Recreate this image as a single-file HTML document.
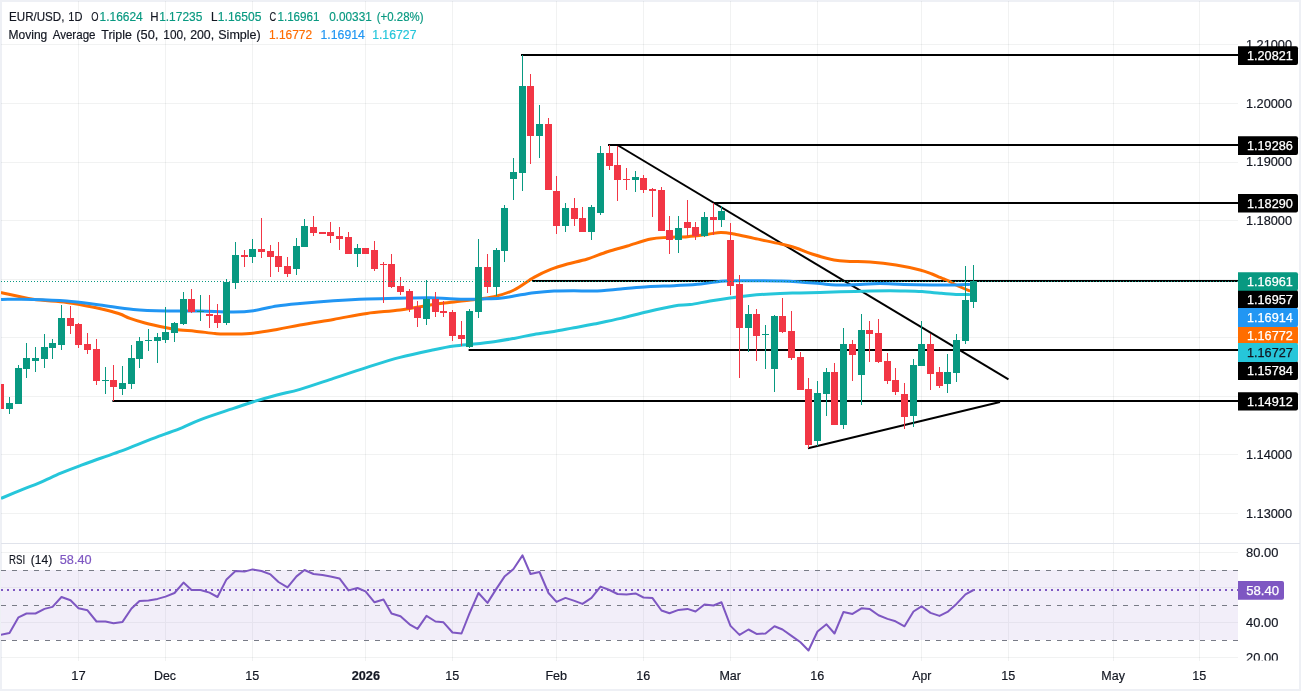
<!DOCTYPE html>
<html lang="en"><head><meta charset="utf-8"><title>EUR/USD 1D chart</title>
<style>html,body{margin:0;padding:0;background:#fff}svg{display:block}</style></head>
<body>
<svg width="1301" height="691" viewBox="0 0 1301 691" font-family="'Liberation Sans', sans-serif">
<rect width="1301" height="691" fill="#fff"/>
<g fill="#eef0f5" shape-rendering="crispEdges"><rect x="0" y="0" width="1301" height="2"/><rect x="0" y="689" width="1301" height="2"/><rect x="0" y="0" width="2" height="691"/><rect x="1299" y="0" width="2" height="691"/></g>
<clipPath id="cc"><rect x="1" y="1" width="1299" height="689"/></clipPath>
<g clip-path="url(#cc)">
<g shape-rendering="crispEdges" fill="#2a3a39" fill-opacity="0.065">
<rect x="78" y="0" width="1" height="661"/>
<rect x="165" y="0" width="1" height="661"/>
<rect x="252" y="0" width="1" height="661"/>
<rect x="365" y="0" width="1" height="661"/>
<rect x="452" y="0" width="1" height="661"/>
<rect x="556" y="0" width="1" height="661"/>
<rect x="643" y="0" width="1" height="661"/>
<rect x="730" y="0" width="1" height="661"/>
<rect x="817" y="0" width="1" height="661"/>
<rect x="921" y="0" width="1" height="661"/>
<rect x="1008" y="0" width="1" height="661"/>
<rect x="1113" y="0" width="1" height="661"/>
<rect x="1199" y="0" width="1" height="661"/>
<rect x="0" y="44" width="1238" height="1"/>
<rect x="0" y="103" width="1238" height="1"/>
<rect x="0" y="162" width="1238" height="1"/>
<rect x="0" y="220" width="1238" height="1"/>
<rect x="0" y="279" width="1238" height="1"/>
<rect x="0" y="337" width="1238" height="1"/>
<rect x="0" y="396" width="1238" height="1"/>
<rect x="0" y="454" width="1238" height="1"/>
<rect x="0" y="513" width="1238" height="1"/>
<rect x="0" y="552" width="1238" height="1"/>
<rect x="0" y="587" width="1238" height="1"/>
<rect x="0" y="622" width="1238" height="1"/>
<rect x="0" y="657" width="1238" height="1"/>
</g>
<rect x="0" y="570" width="1238" height="70" fill="#f2eef9" shape-rendering="crispEdges"/>
<g shape-rendering="crispEdges" fill="#e6e3ee">
<rect x="78" y="570" width="1" height="70"/>
<rect x="165" y="570" width="1" height="70"/>
<rect x="252" y="570" width="1" height="70"/>
<rect x="365" y="570" width="1" height="70"/>
<rect x="452" y="570" width="1" height="70"/>
<rect x="556" y="570" width="1" height="70"/>
<rect x="643" y="570" width="1" height="70"/>
<rect x="730" y="570" width="1" height="70"/>
<rect x="817" y="570" width="1" height="70"/>
<rect x="921" y="570" width="1" height="70"/>
<rect x="1008" y="570" width="1" height="70"/>
<rect x="1113" y="570" width="1" height="70"/>
<rect x="1199" y="570" width="1" height="70"/>
<rect x="0" y="587" width="1238" height="1"/>
<rect x="0" y="622" width="1238" height="1"/>
</g>
<g stroke="#787b86" stroke-width="1" stroke-dasharray="5 6" shape-rendering="crispEdges">
<line x1="1" y1="570.5" x2="1238" y2="570.5"/>
<line x1="1" y1="605.5" x2="1238" y2="605.5"/>
<line x1="1" y1="640.5" x2="1238" y2="640.5"/>
</g>
<g stroke="#000" stroke-width="2" stroke-linecap="butt">
<line x1="521" y1="55" x2="1238" y2="55"/>
<line x1="608" y1="145" x2="1238" y2="145"/>
<line x1="713" y1="203" x2="1238" y2="203"/>
<line x1="532" y1="281" x2="1238" y2="281"/>
<line x1="468.6" y1="350" x2="1238" y2="350"/>
<line x1="112.4" y1="401" x2="1238" y2="401"/>
<line x1="617.3" y1="145" x2="1008.5" y2="379.3"/>
<line x1="808" y1="448.3" x2="1000" y2="402"/>
</g>
<path d="M1.7,292.7 C6.9,293.8 22.2,297.7 33.0,299.3 C43.8,300.9 56.4,301.0 66.7,302.4 C77.0,303.8 88.1,306.1 95.0,307.5 C101.9,308.9 103.8,309.4 108.0,310.5 C112.2,311.6 116.3,312.7 120.0,314.0 C123.7,315.3 125.8,316.9 130.0,318.4 C134.2,319.9 139.2,321.5 145.0,323.0 C150.8,324.5 159.2,326.3 165.0,327.5 C170.8,328.7 175.0,329.4 180.0,330.0 C185.0,330.6 189.2,330.6 195.0,331.2 C200.8,331.8 210.0,333.0 215.0,333.5 C220.0,334.0 219.2,334.0 225.0,334.0 C230.8,334.0 241.3,334.2 250.0,333.4 C258.7,332.6 268.7,330.8 277.0,329.4 C285.3,328.0 290.6,326.7 300.0,325.0 C309.4,323.3 322.3,321.3 333.5,319.4 C344.7,317.5 355.9,315.0 367.0,313.4 C378.1,311.8 388.8,311.5 400.0,310.0 C411.2,308.5 425.0,305.8 434.0,304.5 C443.0,303.2 447.9,302.8 454.0,302.0 C460.1,301.2 464.0,300.9 470.7,300.0 C477.4,299.1 486.8,298.4 494.0,296.7 C501.2,295.0 507.3,293.2 514.0,290.0 C520.7,286.8 527.9,280.8 534.0,277.4 C540.1,274.0 545.1,271.6 550.7,269.4 C556.3,267.2 561.3,265.7 567.4,264.0 C573.5,262.3 580.7,261.1 587.4,259.0 C594.1,256.9 600.7,253.9 607.4,251.7 C614.1,249.5 620.2,248.1 627.4,246.0 C634.6,243.9 644.1,240.4 650.8,239.0 C657.5,237.6 661.4,237.8 667.5,237.4 C673.6,237.0 680.8,237.2 687.5,236.7 C694.2,236.2 702.0,235.1 707.5,234.4 C713.0,233.7 716.3,232.5 720.8,232.4 C725.2,232.3 728.6,233.0 734.2,234.0 C739.8,235.0 746.4,236.7 754.2,238.4 C762.0,240.1 773.9,242.4 780.9,244.0 C787.9,245.6 790.8,246.3 796.0,248.0 C801.2,249.7 805.7,252.0 812.0,254.0 C818.3,256.0 827.7,258.8 834.0,260.0 C840.3,261.2 844.0,261.1 850.0,261.4 C856.0,261.7 862.3,261.4 870.0,262.0 C877.7,262.6 887.7,263.7 896.0,265.0 C904.3,266.3 914.0,268.5 920.0,270.0 C926.0,271.5 928.7,272.8 932.0,274.0 C935.3,275.2 938.0,276.6 940.0,277.4 C942.0,278.2 942.3,278.3 944.0,279.0 C945.7,279.7 948.0,280.6 950.0,281.6 C952.0,282.6 952.8,283.5 956.0,285.0 C959.2,286.5 966.8,289.7 969.0,290.6" fill="none" stroke="#ff6d00" stroke-width="3" stroke-linejoin="round" stroke-linecap="round"/>
<path d="M1.7,299.4 C6.9,299.4 22.2,299.1 33.0,299.4 C43.8,299.7 55.5,300.1 66.7,301.0 C77.9,301.9 88.9,303.6 100.0,305.0 C111.1,306.4 122.3,308.4 133.4,309.4 C144.5,310.4 155.7,310.7 166.8,311.0 C177.9,311.3 188.9,310.8 200.0,311.0 C211.1,311.2 224.6,312.1 233.5,312.0 C242.4,311.9 246.2,311.7 253.5,310.7 C260.8,309.7 269.2,307.2 277.0,306.0 C284.8,304.8 290.6,304.3 300.0,303.4 C309.4,302.5 322.3,301.4 333.5,300.7 C344.7,300.0 355.9,299.4 367.0,299.0 C378.1,298.6 389.5,298.4 400.0,298.2 C410.5,298.0 421.7,297.7 430.0,297.8 C438.3,297.9 443.3,298.6 450.0,298.8 C456.7,299.1 464.7,299.3 470.0,299.3 C475.3,299.3 477.0,299.2 482.0,299.0 C487.0,298.8 494.7,298.7 500.0,298.2 C505.3,297.7 508.3,296.9 514.0,296.0 C519.7,295.1 527.3,293.5 534.0,292.7 C540.7,291.9 547.3,291.3 554.0,291.0 C560.7,290.7 567.3,290.7 574.0,290.7 C580.7,290.7 586.2,291.3 594.0,291.0 C601.8,290.7 611.9,289.7 620.8,289.0 C629.7,288.3 638.6,287.2 647.5,286.7 C656.4,286.1 665.3,286.1 674.2,285.7 C683.1,285.2 693.0,284.8 700.8,284.0 C708.6,283.2 715.2,281.8 720.8,281.2 C726.4,280.6 728.6,280.8 734.2,280.7 C739.8,280.6 746.4,280.6 754.2,280.7 C762.0,280.8 773.3,280.8 780.9,281.0 C788.5,281.2 793.5,281.5 800.0,281.9 C806.5,282.3 814.0,283.1 820.0,283.6 C826.0,284.1 829.3,284.9 836.0,285.0 C842.7,285.1 852.7,284.6 860.0,284.4 C867.3,284.2 872.7,283.6 880.0,283.6 C887.3,283.6 895.3,284.2 904.0,284.4 C912.7,284.6 924.0,284.9 932.0,285.0 C940.0,285.1 945.8,285.1 952.0,285.0 C958.2,284.9 966.2,284.5 969.0,284.4" fill="none" stroke="#2196f3" stroke-width="3" stroke-linejoin="round" stroke-linecap="round"/>
<path d="M2.0,498.0 C5.1,496.7 13.9,493.0 20.3,490.4 C26.7,487.8 33.8,485.2 40.5,482.3 C47.2,479.4 54.4,475.9 60.8,473.2 C67.2,470.5 72.2,468.6 79.0,466.1 C85.8,463.6 94.2,460.5 101.3,458.0 C108.4,455.5 114.8,453.4 121.6,450.9 C128.3,448.4 135.1,445.4 141.8,442.8 C148.6,440.2 155.3,437.6 162.1,435.1 C168.9,432.6 176.1,430.2 182.4,427.6 C188.7,425.1 191.5,423.0 200.0,419.8 C208.5,416.6 224.6,411.4 233.5,408.4 C242.4,405.4 246.2,403.9 253.5,401.7 C260.8,399.5 269.2,397.1 277.0,395.0 C284.8,392.9 290.6,392.2 300.0,389.4 C309.4,386.6 322.3,382.1 333.5,378.4 C344.7,374.7 355.9,370.9 367.0,367.4 C378.1,363.9 388.8,360.3 400.0,357.4 C411.2,354.4 425.0,351.6 434.0,349.7 C443.0,347.8 447.3,346.9 454.0,346.0 C460.7,345.1 467.3,344.7 474.0,344.0 C480.7,343.3 487.3,342.6 494.0,341.7 C500.7,340.8 507.3,339.6 514.0,338.4 C520.7,337.2 527.3,335.6 534.0,334.4 C540.7,333.2 547.3,332.5 554.0,331.4 C560.7,330.3 567.3,328.9 574.0,327.7 C580.7,326.5 586.2,325.6 594.0,324.0 C601.8,322.4 611.9,320.4 620.8,318.4 C629.7,316.3 638.6,313.8 647.5,311.7 C656.4,309.6 667.1,307.2 674.2,306.0 C681.3,304.8 684.0,305.4 690.0,304.6 C696.0,303.8 703.3,302.1 710.0,301.0 C716.7,299.9 723.3,298.9 730.0,298.0 C736.7,297.1 741.7,296.2 750.0,295.4 C758.3,294.6 771.7,293.8 780.0,293.4 C788.3,293.0 793.3,293.2 800.0,293.0 C806.7,292.8 813.3,292.6 820.0,292.4 C826.7,292.2 831.7,292.0 840.0,291.8 C848.3,291.6 861.7,291.2 870.0,291.0 C878.3,290.8 884.3,290.8 890.0,290.8 C895.7,290.8 898.7,290.9 904.0,291.0 C909.3,291.1 916.0,291.2 922.0,291.6 C928.0,292.0 934.3,292.7 940.0,293.2 C945.7,293.7 951.2,294.2 956.0,294.4 C960.8,294.6 966.8,294.6 969.0,294.6" fill="none" stroke="#26c6da" stroke-width="3" stroke-linejoin="round" stroke-linecap="round"/>
<g shape-rendering="crispEdges">
<rect x="0" y="384" width="1" height="25" fill="#f23645"/>
<rect x="-3" y="384" width="7" height="25" fill="#f23645"/>
<rect x="9" y="397" width="1" height="17" fill="#089981"/>
<rect x="6" y="403" width="7" height="6" fill="#089981"/>
<rect x="18" y="365" width="1" height="39" fill="#089981"/>
<rect x="15" y="368" width="7" height="36" fill="#089981"/>
<rect x="26" y="343" width="1" height="35" fill="#089981"/>
<rect x="23" y="358" width="7" height="11" fill="#089981"/>
<rect x="35" y="347" width="1" height="25" fill="#089981"/>
<rect x="32" y="358" width="7" height="3" fill="#089981"/>
<rect x="44" y="334" width="1" height="34" fill="#089981"/>
<rect x="41" y="347" width="7" height="12" fill="#089981"/>
<rect x="52" y="339" width="1" height="20" fill="#089981"/>
<rect x="49" y="343" width="7" height="5" fill="#089981"/>
<rect x="61" y="305" width="1" height="45" fill="#089981"/>
<rect x="58" y="318" width="7" height="27" fill="#089981"/>
<rect x="70" y="306" width="1" height="28" fill="#f23645"/>
<rect x="67" y="318" width="7" height="8" fill="#f23645"/>
<rect x="78" y="323" width="1" height="25" fill="#f23645"/>
<rect x="75" y="324" width="7" height="21" fill="#f23645"/>
<rect x="87" y="333" width="1" height="21" fill="#f23645"/>
<rect x="84" y="344" width="7" height="6" fill="#f23645"/>
<rect x="96" y="339" width="1" height="46" fill="#f23645"/>
<rect x="93" y="349" width="7" height="32" fill="#f23645"/>
<rect x="105" y="367" width="1" height="27" fill="#089981"/>
<rect x="102" y="380" width="7" height="1" fill="#089981"/>
<rect x="113" y="365" width="1" height="36" fill="#f23645"/>
<rect x="110" y="380" width="7" height="7" fill="#f23645"/>
<rect x="122" y="366" width="1" height="29" fill="#089981"/>
<rect x="119" y="383" width="7" height="6" fill="#089981"/>
<rect x="131" y="345" width="1" height="44" fill="#089981"/>
<rect x="128" y="358" width="7" height="26" fill="#089981"/>
<rect x="139" y="337" width="1" height="31" fill="#089981"/>
<rect x="136" y="341" width="7" height="18" fill="#089981"/>
<rect x="148" y="329" width="1" height="22" fill="#089981"/>
<rect x="145" y="340" width="7" height="1" fill="#089981"/>
<rect x="157" y="333" width="1" height="30" fill="#089981"/>
<rect x="154" y="337" width="7" height="4" fill="#089981"/>
<rect x="165" y="307" width="1" height="36" fill="#089981"/>
<rect x="162" y="332" width="7" height="8" fill="#089981"/>
<rect x="174" y="322" width="1" height="20" fill="#089981"/>
<rect x="171" y="323" width="7" height="10" fill="#089981"/>
<rect x="183" y="292" width="1" height="33" fill="#089981"/>
<rect x="180" y="299" width="7" height="25" fill="#089981"/>
<rect x="191" y="289" width="1" height="24" fill="#f23645"/>
<rect x="188" y="299" width="7" height="13" fill="#f23645"/>
<rect x="200" y="295" width="1" height="26" fill="#089981"/>
<rect x="197" y="311" width="7" height="1" fill="#089981"/>
<rect x="209" y="295" width="1" height="33" fill="#f23645"/>
<rect x="206" y="314" width="7" height="2" fill="#f23645"/>
<rect x="217" y="304" width="1" height="24" fill="#f23645"/>
<rect x="214" y="315" width="7" height="8" fill="#f23645"/>
<rect x="226" y="279" width="1" height="46" fill="#089981"/>
<rect x="223" y="282" width="7" height="41" fill="#089981"/>
<rect x="235" y="242" width="1" height="47" fill="#089981"/>
<rect x="232" y="255" width="7" height="28" fill="#089981"/>
<rect x="244" y="250" width="1" height="17" fill="#f23645"/>
<rect x="241" y="255" width="7" height="2" fill="#f23645"/>
<rect x="252" y="239" width="1" height="24" fill="#089981"/>
<rect x="249" y="249" width="7" height="8" fill="#089981"/>
<rect x="261" y="218" width="1" height="40" fill="#f23645"/>
<rect x="258" y="249" width="7" height="3" fill="#f23645"/>
<rect x="270" y="245" width="1" height="32" fill="#f23645"/>
<rect x="267" y="251" width="7" height="6" fill="#f23645"/>
<rect x="278" y="242" width="1" height="30" fill="#f23645"/>
<rect x="275" y="256" width="7" height="11" fill="#f23645"/>
<rect x="287" y="257" width="1" height="20" fill="#f23645"/>
<rect x="284" y="266" width="7" height="8" fill="#f23645"/>
<rect x="296" y="238" width="1" height="37" fill="#089981"/>
<rect x="293" y="246" width="7" height="23" fill="#089981"/>
<rect x="304" y="219" width="1" height="28" fill="#089981"/>
<rect x="301" y="226" width="7" height="21" fill="#089981"/>
<rect x="313" y="216" width="1" height="20" fill="#f23645"/>
<rect x="310" y="227" width="7" height="6" fill="#f23645"/>
<rect x="322" y="232" width="1" height="2" fill="#f23645"/>
<rect x="319" y="232" width="7" height="2" fill="#f23645"/>
<rect x="330" y="222" width="1" height="21" fill="#f23645"/>
<rect x="327" y="232" width="7" height="4" fill="#f23645"/>
<rect x="339" y="227" width="1" height="23" fill="#f23645"/>
<rect x="336" y="236" width="7" height="3" fill="#f23645"/>
<rect x="348" y="232" width="1" height="22" fill="#f23645"/>
<rect x="345" y="237" width="7" height="17" fill="#f23645"/>
<rect x="357" y="244" width="1" height="23" fill="#089981"/>
<rect x="354" y="248" width="7" height="6" fill="#089981"/>
<rect x="365" y="248" width="1" height="6" fill="#f23645"/>
<rect x="362" y="248" width="7" height="6" fill="#f23645"/>
<rect x="374" y="241" width="1" height="30" fill="#f23645"/>
<rect x="371" y="250" width="7" height="19" fill="#f23645"/>
<rect x="383" y="262" width="1" height="41" fill="#f23645"/>
<rect x="380" y="264" width="7" height="1" fill="#f23645"/>
<rect x="391" y="254" width="1" height="34" fill="#f23645"/>
<rect x="388" y="264" width="7" height="23" fill="#f23645"/>
<rect x="400" y="277" width="1" height="18" fill="#f23645"/>
<rect x="397" y="286" width="7" height="6" fill="#f23645"/>
<rect x="409" y="289" width="1" height="23" fill="#f23645"/>
<rect x="406" y="291" width="7" height="18" fill="#f23645"/>
<rect x="417" y="301" width="1" height="26" fill="#f23645"/>
<rect x="414" y="307" width="7" height="11" fill="#f23645"/>
<rect x="426" y="280" width="1" height="45" fill="#089981"/>
<rect x="423" y="299" width="7" height="20" fill="#089981"/>
<rect x="435" y="292" width="1" height="25" fill="#f23645"/>
<rect x="432" y="299" width="7" height="13" fill="#f23645"/>
<rect x="443" y="301" width="1" height="16" fill="#f23645"/>
<rect x="440" y="311" width="7" height="2" fill="#f23645"/>
<rect x="452" y="310" width="1" height="31" fill="#f23645"/>
<rect x="449" y="312" width="7" height="24" fill="#f23645"/>
<rect x="461" y="321" width="1" height="25" fill="#f23645"/>
<rect x="458" y="335" width="7" height="4" fill="#f23645"/>
<rect x="469" y="309" width="1" height="39" fill="#089981"/>
<rect x="466" y="311" width="7" height="36" fill="#089981"/>
<rect x="478" y="239" width="1" height="79" fill="#089981"/>
<rect x="475" y="267" width="7" height="45" fill="#089981"/>
<rect x="487" y="254" width="1" height="39" fill="#f23645"/>
<rect x="484" y="267" width="7" height="20" fill="#f23645"/>
<rect x="496" y="248" width="1" height="48" fill="#089981"/>
<rect x="493" y="250" width="7" height="37" fill="#089981"/>
<rect x="504" y="205" width="1" height="57" fill="#089981"/>
<rect x="501" y="208" width="7" height="43" fill="#089981"/>
<rect x="513" y="158" width="1" height="42" fill="#089981"/>
<rect x="510" y="172" width="7" height="7" fill="#089981"/>
<rect x="522" y="55" width="1" height="136" fill="#089981"/>
<rect x="519" y="86" width="7" height="87" fill="#089981"/>
<rect x="530" y="74" width="1" height="90" fill="#f23645"/>
<rect x="527" y="86" width="7" height="50" fill="#f23645"/>
<rect x="539" y="105" width="1" height="53" fill="#089981"/>
<rect x="536" y="124" width="7" height="12" fill="#089981"/>
<rect x="548" y="118" width="1" height="72" fill="#f23645"/>
<rect x="545" y="124" width="7" height="66" fill="#f23645"/>
<rect x="556" y="176" width="1" height="58" fill="#f23645"/>
<rect x="553" y="191" width="7" height="35" fill="#f23645"/>
<rect x="565" y="203" width="1" height="29" fill="#089981"/>
<rect x="562" y="208" width="7" height="18" fill="#089981"/>
<rect x="574" y="198" width="1" height="28" fill="#f23645"/>
<rect x="571" y="208" width="7" height="11" fill="#f23645"/>
<rect x="582" y="207" width="1" height="25" fill="#f23645"/>
<rect x="579" y="218" width="7" height="14" fill="#f23645"/>
<rect x="591" y="205" width="1" height="35" fill="#089981"/>
<rect x="588" y="207" width="7" height="25" fill="#089981"/>
<rect x="600" y="146" width="1" height="69" fill="#089981"/>
<rect x="597" y="153" width="7" height="60" fill="#089981"/>
<rect x="609" y="145" width="1" height="25" fill="#f23645"/>
<rect x="606" y="153" width="7" height="13" fill="#f23645"/>
<rect x="617" y="146" width="1" height="55" fill="#f23645"/>
<rect x="614" y="165" width="7" height="15" fill="#f23645"/>
<rect x="626" y="168" width="1" height="22" fill="#f23645"/>
<rect x="623" y="179" width="7" height="1" fill="#f23645"/>
<rect x="635" y="171" width="1" height="21" fill="#089981"/>
<rect x="632" y="177" width="7" height="3" fill="#089981"/>
<rect x="643" y="175" width="1" height="18" fill="#f23645"/>
<rect x="640" y="178" width="7" height="12" fill="#f23645"/>
<rect x="652" y="188" width="1" height="29" fill="#f23645"/>
<rect x="649" y="189" width="7" height="2" fill="#f23645"/>
<rect x="661" y="187" width="1" height="44" fill="#f23645"/>
<rect x="658" y="190" width="7" height="41" fill="#f23645"/>
<rect x="669" y="216" width="1" height="38" fill="#f23645"/>
<rect x="666" y="230" width="7" height="10" fill="#f23645"/>
<rect x="678" y="216" width="1" height="37" fill="#089981"/>
<rect x="675" y="228" width="7" height="12" fill="#089981"/>
<rect x="687" y="200" width="1" height="36" fill="#f23645"/>
<rect x="684" y="222" width="7" height="6" fill="#f23645"/>
<rect x="695" y="222" width="1" height="18" fill="#f23645"/>
<rect x="692" y="227" width="7" height="9" fill="#f23645"/>
<rect x="704" y="212" width="1" height="25" fill="#089981"/>
<rect x="701" y="217" width="7" height="19" fill="#089981"/>
<rect x="713" y="203" width="1" height="32" fill="#f23645"/>
<rect x="710" y="217" width="7" height="3" fill="#f23645"/>
<rect x="721" y="206" width="1" height="21" fill="#089981"/>
<rect x="718" y="211" width="7" height="9" fill="#089981"/>
<rect x="730" y="223" width="1" height="72" fill="#f23645"/>
<rect x="727" y="240" width="7" height="46" fill="#f23645"/>
<rect x="739" y="275" width="1" height="103" fill="#f23645"/>
<rect x="736" y="284" width="7" height="44" fill="#f23645"/>
<rect x="748" y="305" width="1" height="47" fill="#089981"/>
<rect x="745" y="314" width="7" height="14" fill="#089981"/>
<rect x="756" y="309" width="1" height="52" fill="#f23645"/>
<rect x="753" y="314" width="7" height="22" fill="#f23645"/>
<rect x="765" y="325" width="1" height="44" fill="#089981"/>
<rect x="762" y="334" width="7" height="1" fill="#089981"/>
<rect x="774" y="315" width="1" height="77" fill="#089981"/>
<rect x="771" y="316" width="7" height="53" fill="#089981"/>
<rect x="782" y="298" width="1" height="35" fill="#f23645"/>
<rect x="779" y="316" width="7" height="16" fill="#f23645"/>
<rect x="791" y="311" width="1" height="49" fill="#f23645"/>
<rect x="788" y="331" width="7" height="27" fill="#f23645"/>
<rect x="800" y="352" width="1" height="38" fill="#f23645"/>
<rect x="797" y="357" width="7" height="33" fill="#f23645"/>
<rect x="808" y="378" width="1" height="70" fill="#f23645"/>
<rect x="805" y="389" width="7" height="56" fill="#f23645"/>
<rect x="817" y="381" width="1" height="65" fill="#089981"/>
<rect x="814" y="393" width="7" height="48" fill="#089981"/>
<rect x="826" y="368" width="1" height="48" fill="#089981"/>
<rect x="823" y="372" width="7" height="22" fill="#089981"/>
<rect x="834" y="363" width="1" height="62" fill="#f23645"/>
<rect x="831" y="372" width="7" height="53" fill="#f23645"/>
<rect x="843" y="328" width="1" height="101" fill="#089981"/>
<rect x="840" y="344" width="7" height="81" fill="#089981"/>
<rect x="852" y="340" width="1" height="41" fill="#f23645"/>
<rect x="849" y="344" width="7" height="11" fill="#f23645"/>
<rect x="861" y="314" width="1" height="91" fill="#089981"/>
<rect x="858" y="330" width="7" height="45" fill="#089981"/>
<rect x="869" y="321" width="1" height="41" fill="#f23645"/>
<rect x="866" y="330" width="7" height="4" fill="#f23645"/>
<rect x="878" y="319" width="1" height="44" fill="#f23645"/>
<rect x="875" y="333" width="7" height="29" fill="#f23645"/>
<rect x="887" y="353" width="1" height="31" fill="#f23645"/>
<rect x="884" y="361" width="7" height="20" fill="#f23645"/>
<rect x="895" y="368" width="1" height="27" fill="#f23645"/>
<rect x="892" y="380" width="7" height="12" fill="#f23645"/>
<rect x="904" y="383" width="1" height="46" fill="#f23645"/>
<rect x="901" y="394" width="7" height="23" fill="#f23645"/>
<rect x="913" y="359" width="1" height="68" fill="#089981"/>
<rect x="910" y="365" width="7" height="51" fill="#089981"/>
<rect x="921" y="321" width="1" height="45" fill="#089981"/>
<rect x="918" y="344" width="7" height="22" fill="#089981"/>
<rect x="930" y="334" width="1" height="56" fill="#f23645"/>
<rect x="927" y="344" width="7" height="30" fill="#f23645"/>
<rect x="939" y="367" width="1" height="21" fill="#f23645"/>
<rect x="936" y="372" width="7" height="14" fill="#f23645"/>
<rect x="947" y="354" width="1" height="39" fill="#089981"/>
<rect x="944" y="372" width="7" height="12" fill="#089981"/>
<rect x="956" y="334" width="1" height="48" fill="#089981"/>
<rect x="953" y="340" width="7" height="33" fill="#089981"/>
<rect x="965" y="266" width="1" height="78" fill="#089981"/>
<rect x="962" y="300" width="7" height="41" fill="#089981"/>
<rect x="973" y="265" width="1" height="43" fill="#089981"/>
<rect x="970" y="281" width="7" height="21" fill="#089981"/>
</g>
<line x1="1" y1="281.5" x2="1238" y2="281.5" stroke="#089981" stroke-width="1" stroke-dasharray="1 2" shape-rendering="crispEdges"/>
<path d="M0.5,634.9 L9.5,632.9 L18.5,617.3 L26.5,613.5 L35.5,613.5 L44.5,608.9 L52.5,606.9 L61.5,597.0 L70.5,600.3 L78.5,608.3 L87.5,610.3 L96.5,621.5 L105.5,621.5 L113.5,623.3 L122.5,621.9 L131.5,608.5 L139.5,600.9 L148.5,600.5 L157.5,598.9 L165.5,596.6 L174.5,593.0 L183.5,582.6 L191.5,590.0 L200.5,590.0 L209.5,592.6 L217.5,597.0 L226.5,579.4 L235.5,571.0 L244.5,571.6 L252.5,569.4 L261.5,571.0 L270.5,574.4 L278.5,582.0 L287.5,587.4 L296.5,576.4 L304.5,570.0 L313.5,574.0 L322.5,575.0 L330.5,576.4 L339.5,578.4 L348.5,590.4 L357.5,588.0 L365.5,591.4 L374.5,602.3 L383.5,599.5 L391.5,613.5 L400.5,616.3 L409.5,624.3 L417.5,628.9 L426.5,615.9 L435.5,621.5 L443.5,622.3 L452.5,632.5 L461.5,633.5 L469.5,613.3 L478.5,593.0 L487.5,602.9 L496.5,588.6 L504.5,576.6 L513.5,569.0 L522.5,555.4 L530.5,574.0 L539.5,572.0 L548.5,593.0 L556.5,601.9 L565.5,597.9 L574.5,600.9 L582.5,603.9 L591.5,597.9 L600.5,586.6 L609.5,590.0 L617.5,594.0 L626.5,594.4 L635.5,593.4 L643.5,597.5 L652.5,598.1 L661.5,610.5 L669.5,613.3 L678.5,609.9 L687.5,608.9 L695.5,611.5 L704.5,604.5 L713.5,605.5 L721.5,602.3 L730.5,625.9 L739.5,634.9 L748.5,629.5 L756.5,633.9 L765.5,633.5 L774.5,626.3 L782.5,629.5 L791.5,635.9 L800.5,642.3 L808.5,650.5 L817.5,631.5 L826.5,624.3 L834.5,633.5 L843.5,611.9 L852.5,613.9 L861.5,608.3 L869.5,608.9 L878.5,615.3 L887.5,618.9 L895.5,621.3 L904.5,626.3 L913.5,611.5 L921.5,606.3 L930.5,612.9 L939.5,615.9 L947.5,611.9 L956.5,603.9 L965.5,594.4 L973.5,590.0" fill="none" stroke="#7e57c2" stroke-width="2" stroke-linejoin="round"/>
<line x1="1" y1="590" x2="1238" y2="590" stroke="#7e57c2" stroke-width="2" stroke-dasharray="2 4" shape-rendering="crispEdges"/>
<rect x="0" y="543" width="1301" height="1" fill="#e0e3eb" shape-rendering="crispEdges"/>
<text x="1245.9" y="49.22999999999995" font-size="12.4" fill="#131722" font-weight="normal" text-anchor="start" textLength="46.2" lengthAdjust="spacingAndGlyphs" stroke="#131722" stroke-width="0.18">1.21000</text>
<text x="1245.9" y="107.8" font-size="12.4" fill="#131722" font-weight="normal" text-anchor="start" textLength="46.2" lengthAdjust="spacingAndGlyphs" stroke="#131722" stroke-width="0.18">1.20000</text>
<text x="1245.9" y="166.37000000000006" font-size="12.4" fill="#131722" font-weight="normal" text-anchor="start" textLength="46.2" lengthAdjust="spacingAndGlyphs" stroke="#131722" stroke-width="0.18">1.19000</text>
<text x="1245.9" y="224.9400000000001" font-size="12.4" fill="#131722" font-weight="normal" text-anchor="start" textLength="46.2" lengthAdjust="spacingAndGlyphs" stroke="#131722" stroke-width="0.18">1.18000</text>
<text x="1245.9" y="459.2200000000003" font-size="12.4" fill="#131722" font-weight="normal" text-anchor="start" textLength="46.2" lengthAdjust="spacingAndGlyphs" stroke="#131722" stroke-width="0.18">1.14000</text>
<text x="1245.9" y="517.7900000000003" font-size="12.4" fill="#131722" font-weight="normal" text-anchor="start" textLength="46.2" lengthAdjust="spacingAndGlyphs" stroke="#131722" stroke-width="0.18">1.13000</text>
<text x="1246.1" y="556.8" font-size="12.4" fill="#131722" font-weight="normal" text-anchor="start" textLength="32.3" lengthAdjust="spacingAndGlyphs" stroke="#131722" stroke-width="0.18">80.00</text>
<text x="1246.1" y="626.8" font-size="12.4" fill="#131722" font-weight="normal" text-anchor="start" textLength="32.3" lengthAdjust="spacingAndGlyphs" stroke="#131722" stroke-width="0.18">40.00</text>
<clipPath id="c20"><rect x="1238" y="640" width="62" height="20.5"/></clipPath>
<text x="1246.1" y="661.8" font-size="12.4" fill="#131722" clip-path="url(#c20)" stroke="#131722" stroke-width="0.18" textLength="32.3" lengthAdjust="spacingAndGlyphs">20.00</text>
<path d="M1238,46.3 h58 a2,2 0 0 1 2,2 v14.6 a2,2 0 0 1 -2,2 h-58 z" fill="#000"/>
<text x="1247.0" y="59.9" font-size="12.4" fill="#fff" font-weight="normal" text-anchor="start" textLength="45.8" lengthAdjust="spacingAndGlyphs" stroke="#fff" stroke-width="0.25">1.20821</text>
<path d="M1238,136.3 h58 a2,2 0 0 1 2,2 v14.6 a2,2 0 0 1 -2,2 h-58 z" fill="#000"/>
<text x="1247.0" y="149.95" font-size="12.4" fill="#fff" font-weight="normal" text-anchor="start" textLength="45.8" lengthAdjust="spacingAndGlyphs" stroke="#fff" stroke-width="0.25">1.19286</text>
<path d="M1238,194.0 h58 a2,2 0 0 1 2,2 v14.5 a2,2 0 0 1 -2,2 h-58 z" fill="#000"/>
<text x="1247.0" y="207.6" font-size="12.4" fill="#fff" font-weight="normal" text-anchor="start" textLength="45.8" lengthAdjust="spacingAndGlyphs" stroke="#fff" stroke-width="0.25">1.18290</text>
<path d="M1238,290.0 h58 a2,2 0 0 1 2,2 v14.5 a2,2 0 0 1 -2,2 h-58 z" fill="#000"/>
<text x="1247.0" y="303.6" font-size="12.4" fill="#fff" font-weight="normal" text-anchor="start" textLength="45.8" lengthAdjust="spacingAndGlyphs" stroke="#fff" stroke-width="0.25">1.16957</text>
<path d="M1238,326.0 h58 a2,2 0 0 1 2,2 v14.5 a2,2 0 0 1 -2,2 h-58 z" fill="#ff6d00"/>
<text x="1247.0" y="339.8" font-size="12.4" fill="#fff" font-weight="normal" text-anchor="start" textLength="45.8" lengthAdjust="spacingAndGlyphs" stroke="#fff" stroke-width="0.25">1.16772</text>
<path d="M1238,361.0 h58 a2,2 0 0 1 2,2 v14.9 a2,2 0 0 1 -2,2 h-58 z" fill="#000"/>
<text x="1247.0" y="375" font-size="12.4" fill="#fff" font-weight="normal" text-anchor="start" textLength="45.8" lengthAdjust="spacingAndGlyphs" stroke="#fff" stroke-width="0.25">1.15784</text>
<path d="M1238,272.2 h58 a2,2 0 0 1 2,2 v14.6 a2,2 0 0 1 -2,2 h-58 z" fill="#089981"/>
<text x="1247.0" y="285.5" font-size="12.4" fill="#fff" font-weight="normal" text-anchor="start" textLength="45.8" lengthAdjust="spacingAndGlyphs" stroke="#fff" stroke-width="0.25">1.16961</text>
<path d="M1238,307.9 h58 a2,2 0 0 1 2,2 v15.1 a2,2 0 0 1 -2,2 h-58 z" fill="#2196f3"/>
<text x="1247.0" y="321.9" font-size="12.4" fill="#fff" font-weight="normal" text-anchor="start" textLength="45.8" lengthAdjust="spacingAndGlyphs" stroke="#fff" stroke-width="0.25">1.16914</text>
<path d="M1238,343.0 h58 a2,2 0 0 1 2,2 v15.0 a2,2 0 0 1 -2,2 h-58 z" fill="#26c6da"/>
<text x="1247.0" y="356.9" font-size="12.4" fill="#131722" font-weight="normal" text-anchor="start" textLength="45.8" lengthAdjust="spacingAndGlyphs" stroke="#131722" stroke-width="0.25">1.16727</text>
<path d="M1238,392.2 h58 a2,2 0 0 1 2,2 v14.4 a2,2 0 0 1 -2,2 h-58 z" fill="#000"/>
<text x="1247.0" y="405.8" font-size="12.4" fill="#fff" font-weight="normal" text-anchor="start" textLength="45.8" lengthAdjust="spacingAndGlyphs" stroke="#fff" stroke-width="0.25">1.14912</text>
<path d="M1238,580.9 h44 a2,2 0 0 1 2,2 v14.8 a2,2 0 0 1 -2,2 h-44 z" fill="#7e57c2"/>
<text x="1246.2" y="594.8" font-size="12.4" fill="#fff" font-weight="normal" text-anchor="start" textLength="32.9" lengthAdjust="spacingAndGlyphs" stroke="#fff" stroke-width="0.25">58.40</text>
<text x="71.3" y="680" font-size="12.4" fill="#131722" font-weight="normal" text-anchor="start" textLength="14.45" lengthAdjust="spacingAndGlyphs" stroke="#131722" stroke-width="0.18">17</text>
<text x="154.0" y="680" font-size="12.4" fill="#131722" font-weight="normal" text-anchor="start" textLength="22.05" lengthAdjust="spacingAndGlyphs" stroke="#131722" stroke-width="0.18">Dec</text>
<text x="245.3" y="680" font-size="12.4" fill="#131722" font-weight="normal" text-anchor="start" textLength="14.03" lengthAdjust="spacingAndGlyphs" stroke="#131722" stroke-width="0.18">15</text>
<text x="351.7" y="680" font-size="12.4" fill="#131722" font-weight="bold" text-anchor="start" textLength="28.32" lengthAdjust="spacingAndGlyphs" stroke="#131722" stroke-width="0.18">2026</text>
<text x="445.3" y="680" font-size="12.4" fill="#131722" font-weight="normal" text-anchor="start" textLength="14.03" lengthAdjust="spacingAndGlyphs" stroke="#131722" stroke-width="0.18">15</text>
<text x="545.4" y="680" font-size="12.4" fill="#131722" font-weight="normal" text-anchor="start" textLength="21.75" lengthAdjust="spacingAndGlyphs" stroke="#131722" stroke-width="0.18">Feb</text>
<text x="636.3" y="680" font-size="12.4" fill="#131722" font-weight="normal" text-anchor="start" textLength="14.03" lengthAdjust="spacingAndGlyphs" stroke="#131722" stroke-width="0.18">16</text>
<text x="719.4" y="680" font-size="12.4" fill="#131722" font-weight="normal" text-anchor="start" textLength="21.55" lengthAdjust="spacingAndGlyphs" stroke="#131722" stroke-width="0.18">Mar</text>
<text x="810.3" y="680" font-size="12.4" fill="#131722" font-weight="normal" text-anchor="start" textLength="14.03" lengthAdjust="spacingAndGlyphs" stroke="#131722" stroke-width="0.18">16</text>
<text x="912.3" y="680" font-size="12.4" fill="#131722" font-weight="normal" text-anchor="start" textLength="18.95" lengthAdjust="spacingAndGlyphs" stroke="#131722" stroke-width="0.18">Apr</text>
<text x="1001.3" y="680" font-size="12.4" fill="#131722" font-weight="normal" text-anchor="start" textLength="14.03" lengthAdjust="spacingAndGlyphs" stroke="#131722" stroke-width="0.18">15</text>
<text x="1101.3" y="680" font-size="12.4" fill="#131722" font-weight="normal" text-anchor="start" textLength="23.63" lengthAdjust="spacingAndGlyphs" stroke="#131722" stroke-width="0.18">May</text>
<text x="1192.3" y="680" font-size="12.4" fill="#131722" font-weight="normal" text-anchor="start" textLength="14.03" lengthAdjust="spacingAndGlyphs" stroke="#131722" stroke-width="0.18">15</text>
<text y="20.8" font-size="12.4" stroke-width="0.18"><tspan x="9.05" textLength="55.35" lengthAdjust="spacingAndGlyphs" fill="#131722" stroke="#131722">EUR/USD,</tspan> <tspan x="68.35" textLength="14.14" lengthAdjust="spacingAndGlyphs" fill="#131722" stroke="#131722">1D</tspan> <tspan x="91.35" textLength="7.25" lengthAdjust="spacingAndGlyphs" fill="#131722" stroke="#131722">O</tspan><tspan x="99.55" textLength="43.2" lengthAdjust="spacingAndGlyphs" fill="#089981" stroke="#089981">1.16624</tspan> <tspan x="150.25" textLength="8.29" lengthAdjust="spacingAndGlyphs" fill="#131722" stroke="#131722">H</tspan><tspan x="159.15" textLength="43.18" lengthAdjust="spacingAndGlyphs" fill="#089981" stroke="#089981">1.17235</tspan> <tspan x="211.05" textLength="6.51" lengthAdjust="spacingAndGlyphs" fill="#131722" stroke="#131722">L</tspan><tspan x="217.85" textLength="43.55" lengthAdjust="spacingAndGlyphs" fill="#089981" stroke="#089981">1.16505</tspan> <tspan x="269.55" textLength="6.65" lengthAdjust="spacingAndGlyphs" fill="#131722" stroke="#131722">C</tspan><tspan x="277.45" textLength="42.06" lengthAdjust="spacingAndGlyphs" fill="#089981" stroke="#089981">1.16961</tspan> <tspan x="329.15" textLength="42.65" lengthAdjust="spacingAndGlyphs" fill="#089981" stroke="#089981">0.00331</tspan> <tspan x="376.75" textLength="46.78" lengthAdjust="spacingAndGlyphs" fill="#089981" stroke="#089981">(+0.28%)</tspan></text>
<text y="38.8" font-size="12.4" stroke-width="0.18"><tspan x="8.55" textLength="38.7" lengthAdjust="spacingAndGlyphs" fill="#131722" stroke="#131722">Moving</tspan> <tspan x="52.65" textLength="42.88" lengthAdjust="spacingAndGlyphs" fill="#131722" stroke="#131722">Average</tspan> <tspan x="101.35" textLength="30.59" lengthAdjust="spacingAndGlyphs" fill="#131722" stroke="#131722">Triple</tspan> <tspan x="136.25" textLength="22.09" lengthAdjust="spacingAndGlyphs" fill="#131722" stroke="#131722">(50,</tspan> <tspan x="163.35" textLength="23.03" lengthAdjust="spacingAndGlyphs" fill="#131722" stroke="#131722">100,</tspan> <tspan x="190.15" textLength="24.04" lengthAdjust="spacingAndGlyphs" fill="#131722" stroke="#131722">200,</tspan> <tspan x="218.25" textLength="42.44" lengthAdjust="spacingAndGlyphs" fill="#131722" stroke="#131722">Simple)</tspan> <tspan x="268.95" textLength="43.18" lengthAdjust="spacingAndGlyphs" fill="#ff6d00" stroke="#ff6d00">1.16772</tspan> <tspan x="320.55" textLength="44.31" lengthAdjust="spacingAndGlyphs" fill="#2196f3" stroke="#2196f3">1.16914</tspan> <tspan x="372.15" textLength="44.31" lengthAdjust="spacingAndGlyphs" fill="#26c6da" stroke="#26c6da">1.16727</tspan></text>
<text y="563.8" font-size="12.4" stroke-width="0.18"><tspan x="9.05" textLength="16.02" lengthAdjust="spacingAndGlyphs" fill="#131722" stroke="#131722">RSI</tspan> <tspan x="30.85" textLength="21.37" lengthAdjust="spacingAndGlyphs" fill="#131722" stroke="#131722">(14)</tspan> <tspan x="59.75" textLength="31.84" lengthAdjust="spacingAndGlyphs" fill="#7e57c2" stroke="#7e57c2">58.40</tspan></text>
</g>
<g fill="#eef0f5" shape-rendering="crispEdges"><rect x="0" y="0" width="1301" height="1"/><rect x="0" y="690" width="1301" height="1"/><rect x="0" y="0" width="1" height="691"/><rect x="1300" y="0" width="1" height="691"/></g>
</svg>
</body></html>
